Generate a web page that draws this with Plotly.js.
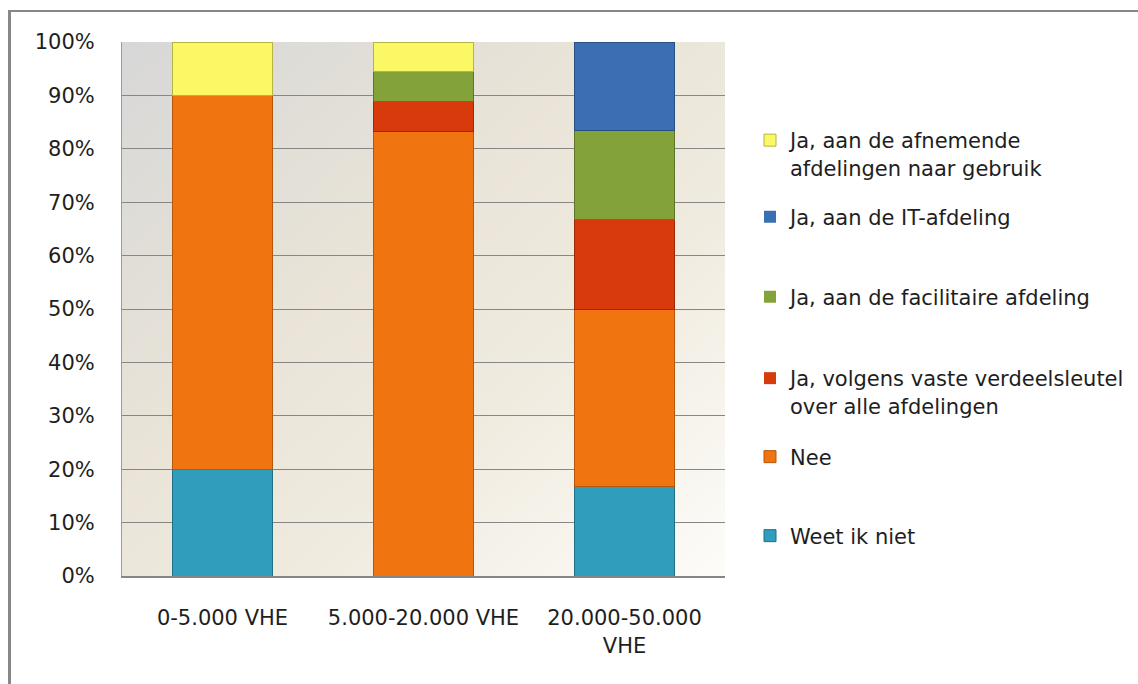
<!DOCTYPE html>
<html>
<head>
<meta charset="utf-8">
<script src="https://cdn.plot.ly/plotly-3.0.1.min.js"></script>
<style>
  html, body { margin: 0; padding: 0; background: #ffffff; }
  #wrap { position: relative; width: 1138px; height: 684px; }
  #chart { position: absolute; left: 0; top: 0; width: 1138px; height: 684px; }
  #frame { position: absolute; left: 8px; top: 10px; right: -4px; bottom: -4px;
           border-top: 2px solid #878787; border-left: 3px solid #878787; pointer-events: none; }
</style>
</head>
<body>
<div id="wrap">
  <div id="chart"></div>
  <div id="frame"></div>
</div>
<script>
// ---- data ----
var categories = ['0-5.000 VHE', '5.000-20.000 VHE', '20.000-50.000 VHE'];
var tickLabels = ['0-5.000 VHE', '5.000-20.000 VHE', '20.000-50.000<br>VHE'];

var weetIkNiet     = [20, 0, 16.7];
var nee            = [70, 83.3, 33.3];
var verdeelsleutel = [0, 5.6, 16.7];
var facilitaire    = [0, 5.6, 16.7];
var itAfdeling     = [0, 0, 16.6];
var afnemende      = [10, 5.5, 0];

var seriesNames = [
  'Weet ik niet',
  'Nee',
  'Ja, volgens vaste verdeelsleutel<br>over alle afdelingen',
  'Ja, aan de facilitaire afdeling',
  'Ja, aan de IT-afdeling',
  'Ja, aan de afnemende<br>afdelingen naar gebruik'
];
var seriesValues = [weetIkNiet, nee, verdeelsleutel, facilitaire, itAfdeling, afnemende];
var seriesColors = ['#2f9dbb', '#f07511', '#d93a0b', '#84a23a', '#3a70b3', '#fbf865'];
var lineColors   = ['#1f6f86', '#b5560a', '#9c2a06', '#5e7428', '#274f80', '#b8b444'];

// legend text-line centres (px from top of page) for each series
var legendCenters = [536, 457, 392, 297, 217, 154];
var legendIds = ['legend', 'legend2', 'legend3', 'legend4', 'legend5', 'legend6'];

var H = 684, W = 1138;
var FONT = 'DejaVu Sans, sans-serif';

var traces = seriesNames.map(function (name, i) {
  return {
    type: 'bar',
    name: name,
    x: categories,
    y: seriesValues[i],
    marker: {
      color: seriesColors[i],
      line: { color: lineColors[i], width: seriesValues[i].map(function (v) { return v > 0 ? 1 : 0; }) }
    },
    legend: legendIds[i],
    hoverinfo: 'name+y'
  };
});

var layout = {
  width: W, height: H,
  margin: { l: 122, r: 413, t: 42, b: 108 },
  paper_bgcolor: 'rgba(0,0,0,0)',
  plot_bgcolor: 'rgba(0,0,0,0)',
  barmode: 'stack',
  bargap: 0.5,
  font: { family: FONT, size: 21, color: '#1e1e1e' },
  xaxis: {
    type: 'category',
    tickvals: categories,
    ticktext: tickLabels,
    showgrid: false,
    showline: true, linecolor: '#868686', linewidth: 2,
    ticks: '', ticklabelstandoff: 22,
    tickfont: { family: FONT, size: 21, color: '#1e1e1e' }
  },
  yaxis: {
    range: [0, 100],
    dtick: 10,
    ticksuffix: '%',
    showgrid: true, gridcolor: '#868686', gridwidth: 1,
    showline: true, linecolor: '#9a9a9a', linewidth: 1,
    zeroline: false,
    ticks: '', ticklabelstandoff: 22,
    tickfont: { family: FONT, size: 21, color: '#1e1e1e' }
  },
  images: [{
    source: 'data:image/svg+xml;utf8,' + encodeURIComponent(
      '<svg xmlns="http://www.w3.org/2000/svg" width="600" height="530" preserveAspectRatio="none">' +
      '<defs><linearGradient id="g" x1="0" y1="0" x2="1" y2="1">' +
      '<stop offset="0" stop-color="#d7d7d7"/>' +
      '<stop offset="0.4" stop-color="#e9e4d7"/>' +
      '<stop offset="0.65" stop-color="#f0ebdf"/>' +
      '<stop offset="1" stop-color="#fdfcf9"/>' +
      '</linearGradient></defs>' +
      '<rect width="600" height="530" fill="url(#g)"/></svg>'),
    xref: 'paper', yref: 'paper',
    x: 0, y: 1, sizex: 1, sizey: 1,
    sizing: 'stretch', layer: 'below'
  }],
  showlegend: true
};

legendIds.forEach(function (id, i) {
  layout[id] = {
    xref: 'container', yref: 'container',
    x: 750 / W, xanchor: 'left',
    y: 1 - legendCenters[i] / H, yanchor: 'middle',
    bgcolor: 'rgba(0,0,0,0)', borderwidth: 0,
    valign: 'top',
    font: { family: FONT, size: 21, color: '#1e1e1e' }
  };
});

Plotly.newPlot('chart', traces, layout, { displayModeBar: false, staticPlot: true });
</script>
</body>
</html>
